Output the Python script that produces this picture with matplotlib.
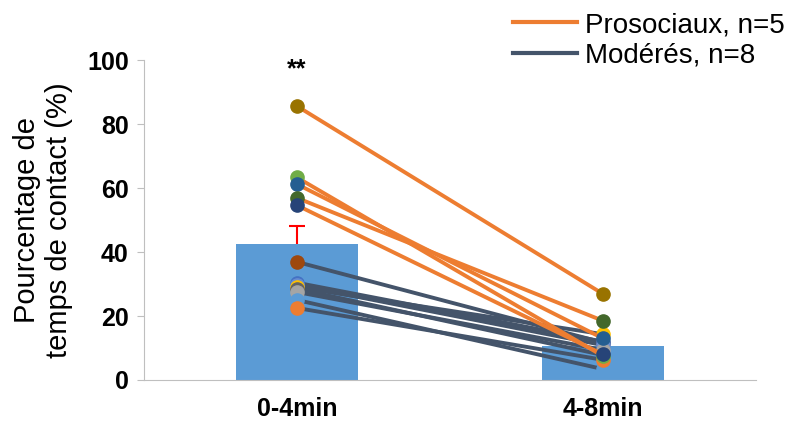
import numpy as np
import matplotlib.pyplot as plt

plt.rcParams['font.family'] = ['Liberation Sans', 'DejaVu Sans']

categories = ["0-4min", "4-8min"]
bar_means = [42.5, 10.6]
bar_err_up = [5.5, 0]

# individual animals: (start, end), marker colour
pro_start = [85.6, 63.3, 61.2, 56.9, 54.6]
pro_end = [26.9, 7.5, 13.0, 18.5, 8.0]
pro_colors = ["#997300", "#70AD47", "#255E91", "#43682B", "#264478"]

mod_start = [36.9, 30.4, 29.7, 29.0, 28.5, 27.5, 25.0, 22.5]
mod_end = [11.7, 12.0, 10.9, 14.3, 7.8, 9.4, 3.4, 6.3]
mod_colors = ["#9E480E", "#4472C4", "#698ED0", "#FFC000", "#636363", "#A5A5A5", "#5B9BD5", "#ED7D31"]

pro_line = "#ED7D31"
mod_line = "#44546A"

fig = plt.figure(figsize=(8, 4.26), dpi=100)
ax = fig.add_axes([0.18, 0.108, 0.765, 0.751])

x = np.arange(len(categories))
ax.bar(x, bar_means, width=0.4, color="#5B9BD5", zorder=1)
# upper-only error bar
ax.vlines(x[0], bar_means[0], bar_means[0] + bar_err_up[0], color="red", lw=1.5, zorder=2)
ax.plot(x[0], bar_means[0] + bar_err_up[0], marker="_", ms=12, mew=1.5, color="red", zorder=2)

for s, e, c in zip(mod_start, mod_end, mod_colors):
    ax.plot(x, [s, e], color=mod_line, lw=2.8, zorder=3)
    ax.plot(x, [s, e], ls="none", marker="o", ms=9.5, color=c, zorder=4)
for s, e, c in zip(pro_start, pro_end, pro_colors):
    ax.plot(x, [s, e], color=pro_line, lw=2.8, zorder=5)
    ax.plot(x, [s, e], ls="none", marker="o", ms=9.5, color=c, zorder=6)

ax.text(0, 97, "**", ha="center", va="center", fontsize=18, fontweight="bold")

ax.set_xlim(-0.5, 1.5)
ax.set_ylim(0, 100)
ax.set_yticks(np.arange(0, 101, 20))
ax.set_xticks(x)
ax.set_xticklabels(categories, fontsize=18, fontweight="bold")
for lab in ax.get_yticklabels():
    lab.set_fontsize(18)
    lab.set_fontweight("bold")
ax.tick_params(axis="x", length=0, pad=12)
ax.tick_params(axis="y", length=5, color="#BFBFBF", pad=6)
for side in ["top", "right"]:
    ax.spines[side].set_visible(False)
for side in ["left", "bottom"]:
    ax.spines[side].set_color("#BFBFBF")
ax.set_ylabel("Pourcentage de\ntemps de contact (%)", fontsize=21, labelpad=10)

h1, = ax.plot([], [], color=pro_line, lw=3)
h2, = ax.plot([], [], color=mod_line, lw=3)
fig.legend([h1, h2], ["Prosociaux, n=5", "Modérés, n=8"], loc="upper left",
           bbox_to_anchor=(0.61, 1.03), frameon=False, fontsize=20,
           handlelength=2.3, handletextpad=0.3, labelspacing=0.15)

fig.savefig("out.png", dpi=100)
